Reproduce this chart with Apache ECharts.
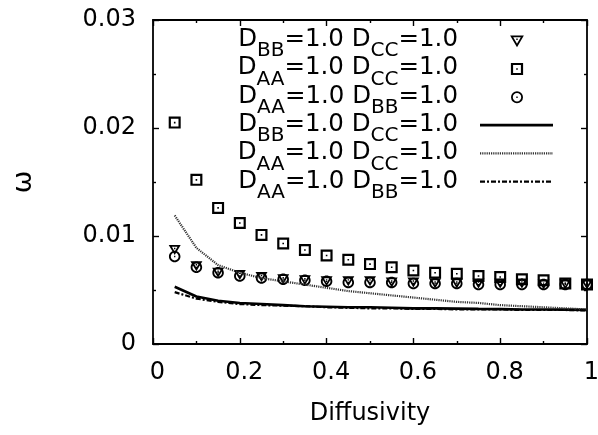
<!DOCTYPE html>
<html>
<head>
<meta charset="utf-8">
<script src="https://cdn.jsdelivr.net/npm/echarts@6/dist/echarts.min.js"></script>
<style>
html,body{margin:0;padding:0;background:#fff;}
#chart{width:598px;height:435px;}
</style>
</head>
<body>
<div id="chart"></div>
<script>
// ---- data ----
const diffusivity = [0.05,0.10,0.15,0.20,0.25,0.30,0.35,0.40,0.45,0.50,0.55,0.60,0.65,0.70,0.75,0.80,0.85,0.90,0.95,1.00];
// points: D_BB=1.0 D_CC=1.0 (triangles)
const ptsBBCC = [0.0087,0.0072,0.0066,0.0064,0.0062,0.0060,0.0059,0.0058,0.0058,0.0058,0.0057,0.0057,0.0056,0.0056,0.0056,0.0056,0.0056,0.0055,0.0055,0.0055];
// points: D_AA=1.0 D_CC=1.0 (squares)
const ptsAACC = [0.0205,0.0152,0.0126,0.0112,0.0101,0.0093,0.0087,0.0082,0.0078,0.0074,0.0071,0.0068,0.0066,0.0065,0.0063,0.0062,0.0060,0.0059,0.0056,0.0055];
// points: D_AA=1.0 D_BB=1.0 (circles)
const ptsAABB = [0.0081,0.0071,0.0066,0.0063,0.0061,0.0060,0.0059,0.0058,0.0057,0.0057,0.0057,0.0056,0.0056,0.0056,0.0055,0.0055,0.0055,0.0055,0.0055,0.0055];
// lines
const lineBBCC = [0.0053,0.0044,0.0040,0.0038,0.0037,0.0036,0.0035,0.00345,0.0034,0.0034,0.00335,0.0033,0.0033,0.00328,0.00325,0.00323,0.0032,0.0032,0.00318,0.00316];
const lineAACC = [0.0119,0.0089,0.0073,0.0066,0.0061,0.0058,0.0055,0.0052,0.0049,0.0047,0.0045,0.0043,0.0041,0.0039,0.0038,0.0036,0.0035,0.0034,0.0033,0.0032];
const lineAABB = [0.0048,0.0042,0.0039,0.0037,0.0036,0.00355,0.0035,0.0034,0.00335,0.0033,0.0033,0.00325,0.00325,0.0032,0.0032,0.0032,0.00315,0.00315,0.00315,0.0031];
const xTicks = [0, 0.2, 0.4, 0.6, 0.8, 1];
const yTicks = [0, 0.01, 0.02, 0.03];
const legendLabels = [
  ['BB','CC'], ['AA','CC'], ['AA','BB'],
  ['BB','CC'], ['AA','CC'], ['AA','BB']
];
const xTitle = 'Diffusivity';
const yTitle = 'ω';

// ---- marker shapes (hollow, with centre dot) ----
const SQUARE = 'path://M0,0 H12 V12 H0 Z M2.2,2.2 V9.8 H9.8 V2.2 Z M5.2,5.2 h1.6 v1.6 h-1.6 Z';
const TRI = 'path://M0,0 L12,0 L6,10 Z M3.2,1.8 L6,6.6 L8.8,1.8 Z M5.3,2.8 h1.4 v1.4 h-1.4 Z';
const CIRC = 'path://M12,6 C12,9.314 9.314,12 6,12 C2.686,12 0,9.314 0,6 C0,2.686 2.686,0 6,0 C9.314,0 12,2.686 12,6 Z ' +
  'M10.1,6 C10.1,3.74 8.26,1.9 6,1.9 C3.74,1.9 1.9,3.74 1.9,6 C1.9,8.26 3.74,10.1 6,10.1 C8.26,10.1 10.1,8.26 10.1,6 Z ' +
  'M5.3,5.3 h1.4 v1.4 h-1.4 Z';

const FONT = 'DejaVu Sans';
const pairs = (ys) => diffusivity.map((x, i) => [x, ys[i]]);

const lineStyles = [
  { color: '#000', width: 2.6, type: 'solid' },
  { color: '#333', width: 2.2, type: [1.2, 1] },
  { color: '#000', width: 2.2, type: [5, 2, 2, 2] }
];

const chart = echarts.init(document.getElementById('chart'), null, { renderer: 'canvas' });

const axisCommon = {
  type: 'value',
  axisLine: { show: true, onZero: false, lineStyle: { color: '#000', width: 1.8 } },
  axisTick: { show: true, inside: true, length: 6, lineStyle: { color: '#000', width: 1.4 } },
  minorTick: { show: true, splitNumber: 2, length: 3, lineStyle: { color: '#000', width: 1.4 } },
  splitLine: { show: false },
  minorSplitLine: { show: false }
};

// legend drawn with graphic elements
const graphics = [];
const baseY0 = 46.7, rowH = 28.3;
legendLabels.forEach((lab, i) => {
  const base = baseY0 + rowH * i;
  graphics.push({
    type: 'text',
    x: 458, y: base - 19.5,
    style: {
      text: '{m|D}{s|' + lab[0] + '}{m|=1.0 D}{s|' + lab[1] + '}{m|=1.0}',
      align: 'right', verticalAlign: 'top',
      fill: '#000',
      rich: {
        m: { fontFamily: FONT, fontSize: 24.5, lineHeight: 24, verticalAlign: 'top', fill: '#000' },
        s: { fontFamily: FONT, fontSize: 20, lineHeight: 20, verticalAlign: 'top', padding: [14, 0, 0, 0], fill: '#000' }
      }
    },
    z: 100
  });
});
// legend symbols
const symX = 517;
(function () {
  let cy = baseY0 - 6;
  graphics.push({ type: 'polygon', shape: { points: [[symX - 5.3, cy - 4.3], [symX + 5.3, cy - 4.3], [symX, cy + 4.7]] },
    style: { fill: 'none', stroke: '#000', lineWidth: 1.8 }, z: 100 });
  graphics.push({ type: 'rect', shape: { x: symX - 0.7, y: cy - 2.2, width: 1.4, height: 1.4 }, style: { fill: '#000' }, z: 100 });
  cy = baseY0 + rowH - 6;
  graphics.push({ type: 'rect', shape: { x: symX - 5, y: cy - 5, width: 10, height: 10 },
    style: { fill: 'none', stroke: '#000', lineWidth: 2.2 }, z: 100 });
  graphics.push({ type: 'rect', shape: { x: symX - 0.8, y: cy - 0.8, width: 1.6, height: 1.6 }, style: { fill: '#000' }, z: 100 });
  cy = baseY0 + rowH * 2 - 6;
  graphics.push({ type: 'circle', shape: { cx: symX, cy: cy, r: 5.1 },
    style: { fill: 'none', stroke: '#000', lineWidth: 1.8 }, z: 100 });
  graphics.push({ type: 'rect', shape: { x: symX - 0.7, y: cy - 0.7, width: 1.4, height: 1.4 }, style: { fill: '#000' }, z: 100 });
})();
lineStyles.forEach((ls, i) => {
  const cy = baseY0 + rowH * (i + 3) - 6.5;
  graphics.push({
    type: 'line',
    shape: { x1: 480, y1: cy, x2: 553, y2: cy },
    style: { stroke: ls.color, lineWidth: ls.width, lineDash: ls.type === 'solid' ? null : ls.type },
    z: 100
  });
});

const option = {
  animation: false,
  backgroundColor: '#fff',
  grid: { left: 153, right: 11, top: 20, bottom: 91, outerBoundsMode: 'none' },
  xAxis: [
    Object.assign({}, axisCommon, {
      position: 'bottom', min: 0, max: 1, interval: 0.2,
      axisLabel: {
        show: true, margin: 17, fontFamily: FONT, fontSize: 24, color: '#000',
        padding: [0, 0, 0, 9],
        formatter: (v) => { const k = xTicks.findIndex(t => Math.abs(t - v) < 1e-9); return k >= 0 ? String(xTicks[k]) : ''; }
      },
      name: xTitle, nameLocation: 'middle', nameGap: 58,
      nameTextStyle: { fontFamily: FONT, fontSize: 24, color: '#000' }
    }),
    Object.assign({}, axisCommon, {
      position: 'top', min: 0, max: 1, interval: 0.2,
      axisLabel: { show: false }
    })
  ],
  yAxis: [
    Object.assign({}, axisCommon, {
      position: 'left', min: 0, max: 0.03, interval: 0.01,
      axisLabel: {
        show: true, margin: 17, fontFamily: FONT, fontSize: 24, color: '#000',
        formatter: (v) => { const k = yTicks.findIndex(t => Math.abs(t - v) < 1e-9); return k >= 0 ? String(yTicks[k]) : ''; }
      },
      name: yTitle, nameLocation: 'middle', nameGap: 116, nameRotate: 90,
      nameTextStyle: { fontFamily: FONT, fontSize: 27, color: '#000' }
    }),
    Object.assign({}, axisCommon, {
      position: 'right', min: 0, max: 0.03, interval: 0.01,
      axisLabel: { show: false }
    })
  ],
  series: [
    { type: 'scatter', name: 'BBCC pts', data: pairs(ptsBBCC), symbol: TRI, symbolSize: [12, 10], itemStyle: { color: '#000', opacity: 1 }, z: 3 },
    { type: 'scatter', name: 'AACC pts', data: pairs(ptsAACC), symbol: SQUARE, symbolSize: 12, itemStyle: { color: '#000', opacity: 1 }, z: 3 },
    { type: 'scatter', name: 'AABB pts', data: pairs(ptsAABB), symbol: CIRC, symbolSize: 11.5, itemStyle: { color: '#000', opacity: 1 }, z: 3 },
    { type: 'line', name: 'BBCC line', data: pairs(lineBBCC), showSymbol: false, lineStyle: lineStyles[0], z: 4 },
    { type: 'line', name: 'AACC line', data: pairs(lineAACC), showSymbol: false, lineStyle: lineStyles[1], z: 4 },
    { type: 'line', name: 'AABB line', data: pairs(lineAABB), showSymbol: false, lineStyle: lineStyles[2], z: 4 }
  ],
  graphic: graphics
};
chart.setOption(option);
</script>
</body>
</html>
